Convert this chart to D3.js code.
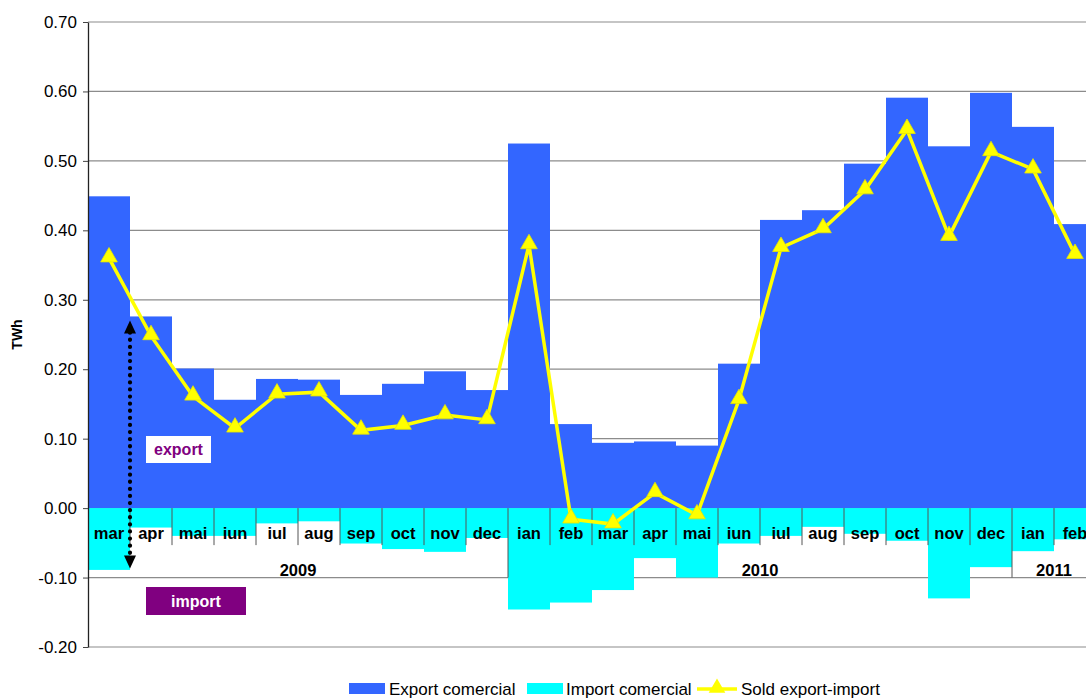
<!DOCTYPE html>
<html>
<head>
<meta charset="utf-8">
<script src="https://cdn.jsdelivr.net/npm/d3@7"></script>
<style>
  body { margin: 0; background: #fff; }
  svg { display: block; font-family: "Liberation Sans", Arial, sans-serif; }
</style>
</head>
<body>
<script>
'use strict'

var months = ["mar", "apr", "mai", "iun", "iul", "aug", "sep", "oct", "nov", "dec",
  "ian", "feb", "mar", "apr", "mai", "iun", "iul", "aug", "sep", "oct", "nov", "dec",
  "ian", "feb"]
var years = [
  { label: "2009", from: 0, to: 10 },
  { label: "2010", from: 10, to: 22 },
  { label: "2011", from: 22, to: 24 }
]
var exportValues = [0.449, 0.276, 0.201, 0.156, 0.186, 0.185, 0.163, 0.179, 0.197, 0.170,
  0.525, 0.121, 0.094, 0.096, 0.090, 0.208, 0.415, 0.429, 0.496, 0.591, 0.521, 0.598,
  0.549, 0.409]
var importValues = [-0.089, -0.028, -0.040, -0.040, -0.022, -0.019, -0.051, -0.059, -0.063, -0.043,
  -0.146, -0.136, -0.118, -0.072, -0.100, -0.051, -0.040, -0.027, -0.037, -0.047, -0.130, -0.085,
  -0.062, -0.045]
var soldValues = [0.360, 0.248, 0.161, 0.115, 0.164, 0.167, 0.112, 0.119, 0.134, 0.127,
  0.379, -0.016, -0.023, 0.022, -0.010, 0.156, 0.375, 0.402, 0.458, 0.545, 0.391, 0.513,
  0.488, 0.365]
var yTicks = [-0.2, -0.1, 0, 0.1, 0.2, 0.3, 0.4, 0.5, 0.6, 0.7]

var width = 1086
var height = 698
var plotLeft = 88
var plotTop = 22
var step = 42
var plotBottom = 647

var svg = d3.select("body").append("svg")
  .attr("width", width)
  .attr("height", height)

var idx = months.map(function (d, i) { return i })

var x = d3.scaleBand()
  .domain(idx)
  .range([plotLeft, plotLeft + step * months.length])
  .padding(0)
var y = d3.scaleLinear()
  .domain([-0.2, 0.7])
  .range([plotBottom, plotTop])

// grid
var grid = svg.append("g")
grid.selectAll("line")
  .data(yTicks)
  .enter()
  .append("line")
  .attr("x1", plotLeft)
  .attr("x2", width)
  .attr("y1", d => y(d))
  .attr("y2", d => y(d))
  .attr("stroke", "#8c8c8c")
  .attr("stroke-width", 1.2)

// bars
svg.append("g").selectAll("rect")
  .data(exportValues)
  .enter()
  .append("rect")
  .attr("x", (d, i) => x(i))
  .attr("width", x.bandwidth())
  .attr("y", d => y(d))
  .attr("height", d => y(0) - y(d))
  .attr("fill", "#3366ff")

svg.append("g").selectAll("rect")
  .data(importValues)
  .enter()
  .append("rect")
  .attr("x", (d, i) => x(i))
  .attr("width", x.bandwidth())
  .attr("y", y(0))
  .attr("height", d => y(d) - y(0))
  .attr("fill", "#00ffff")

// y axis
var fmt = d => d.toFixed(2)
var yAxis = svg.append("g")
  .attr("transform", "translate(" + plotLeft + ",0)")
  .call(d3.axisLeft(y).tickValues(yTicks).tickFormat(fmt).tickSize(5).tickSizeOuter(0))
yAxis.select(".domain").attr("stroke", "#222").attr("stroke-width", 1.3)
yAxis.selectAll(".tick line").attr("stroke", "#444")
yAxis.selectAll("text")
  .attr("font-size", 17)
  .attr("font-family", "Liberation Sans, Arial, sans-serif")
  .attr("fill", "#000")
  .attr("dx", -3)

svg.append("text")
  .attr("transform", "translate(22," + y(0.25) + ") rotate(-90)")
  .attr("text-anchor", "middle")
  .attr("font-weight", "bold")
  .attr("font-size", 14)
  .text("TWh")

// category axis
var sep = svg.append("g")
sep.selectAll("line")
  .data(d3.range(1, months.length + 1))
  .enter()
  .append("line")
  .attr("x1", d => plotLeft + d * x.step())
  .attr("x2", d => plotLeft + d * x.step())
  .attr("y1", y(0))
  .attr("y2", d => (d === 10 || d === 22) ? y(-0.1) : y(0) + 37)
  .attr("stroke", "#555")
  .attr("stroke-width", 1)

var xAxis = svg.append("g")
  .attr("transform", "translate(0," + y(0) + ")")
  .call(d3.axisBottom(x).tickFormat(i => months[i]).tickSize(0).tickPadding(19))
xAxis.select(".domain").remove()
xAxis.selectAll("text")
  .attr("font-size", 16.5)
  .attr("font-weight", "bold")
  .attr("font-family", "Liberation Sans, Arial, sans-serif")
  .attr("fill", "#000")

svg.append("g").selectAll("text")
  .data(years)
  .enter()
  .append("text")
  .attr("x", d => (x(d.from) + plotLeft + d.to * x.step()) / 2)
  .attr("y", y(0) + 68)
  .attr("text-anchor", "middle")
  .attr("font-weight", "bold")
  .attr("font-size", 16.5)
  .text(d => d.label)

// sold line
var cx = i => x(i) + x.bandwidth() / 2
svg.append("path")
  .datum(soldValues)
  .attr("d", d3.line().x((d, i) => cx(i)).y(d => y(d)))
  .attr("fill", "none")
  .attr("stroke", "#ffff00")
  .attr("stroke-width", 3.5)

var tri = d3.symbol().type(d3.symbolTriangle).size(120)
svg.append("g").selectAll("path")
  .data(soldValues)
  .enter()
  .append("path")
  .attr("d", tri)
  .attr("transform", (d, i) => "translate(" + cx(i) + "," + (y(d) - 1) + ")")
  .attr("fill", "#ffff00")
  .attr("stroke", "#e6e600")
  .attr("stroke-width", 0.8)

// annotation: dotted double arrow
var ax = x(1)
var aTop = y(0.27)
var aBot = y(-0.087)
svg.append("line")
  .attr("x1", ax).attr("x2", ax)
  .attr("y1", aTop + 12).attr("y2", aBot - 12)
  .attr("stroke", "#000")
  .attr("stroke-width", 4.2)
  .attr("stroke-linecap", "round")
  .attr("stroke-dasharray", "0.1 7")
svg.append("path")
  .attr("d", "M" + ax + "," + aTop + "l-6,13l12,0z")
  .attr("fill", "#000")
svg.append("path")
  .attr("d", "M" + ax + "," + aBot + "l-6,-13l12,0z")
  .attr("fill", "#000")

svg.append("rect")
  .attr("x", 146).attr("y", 436)
  .attr("width", 65).attr("height", 27)
  .attr("fill", "#fff")
svg.append("text")
  .attr("x", 178.5).attr("y", 455)
  .attr("text-anchor", "middle")
  .attr("font-weight", "bold")
  .attr("font-size", 16)
  .attr("fill", "#800080")
  .text("export")

svg.append("rect")
  .attr("x", 146).attr("y", 587)
  .attr("width", 100).attr("height", 28)
  .attr("fill", "#800080")
svg.append("text")
  .attr("x", 196).attr("y", 606.5)
  .attr("text-anchor", "middle")
  .attr("font-weight", "bold")
  .attr("font-size", 16)
  .attr("fill", "#fff")
  .text("import")

// legend
var lg = svg.append("g").attr("font-size", 17)
lg.append("rect").attr("x", 349).attr("y", 683).attr("width", 36).attr("height", 11).attr("fill", "#3366ff")
lg.append("text").attr("x", 389).attr("y", 695).text("Export comercial")
lg.append("rect").attr("x", 527).attr("y", 683).attr("width", 36).attr("height", 11).attr("fill", "#00ffff")
lg.append("text").attr("x", 566).attr("y", 695).text("Import comercial")
lg.append("line").attr("x1", 697).attr("x2", 737).attr("y1", 689).attr("y2", 689)
  .attr("stroke", "#ffff00").attr("stroke-width", 3.5)
lg.append("path").attr("d", tri).attr("transform", "translate(717,688)").attr("fill", "#ffff00")
lg.append("text").attr("x", 741).attr("y", 695).text("Sold export-import")
</script>
</body>
</html>
